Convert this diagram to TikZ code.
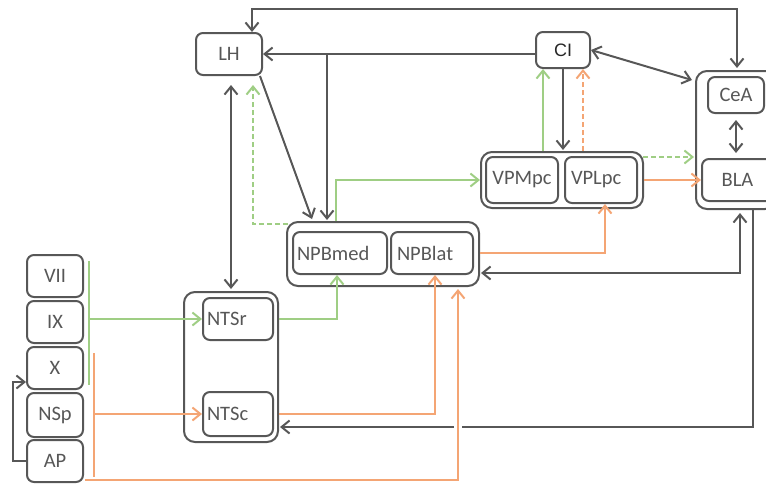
\documentclass[tikz,border=0pt]{standalone}
\usepackage{fontspec}
\setmainfont{Carlito}
\newfontfamily\cifont{Liberation Sans}
\usetikzlibrary{arrows.meta,calc}
\definecolor{dk}{HTML}{575757}
\definecolor{gr}{HTML}{9FCE84}
\definecolor{orng}{HTML}{F4A574}
\begin{document}
\begin{tikzpicture}[x=1pt,y=-1pt,
  >={Straight Barb[length=8pt,width=13pt]},
  box/.style 2 args={draw=dk, line width=2pt, rounded corners=7pt,
    minimum width=#1pt, minimum height=#2pt, inner sep=0pt, text=dk,
    font=\fontsize{20.5}{24}\selectfont},
  outer/.style 2 args={draw=dk, line width=2pt, rounded corners=11pt,
    minimum width=#1pt, minimum height=#2pt, inner sep=0pt},
  lt/.style={text width=#1pt, align=left},
  dkline/.style={draw=dk, line width=2pt},
  grline/.style={draw=gr, line width=2pt},
  orline/.style={draw=orng, line width=2pt},
  dsh/.style={dash pattern=on 5pt off 3pt}]
\useasboundingbox (0,0) rectangle (766,483);
\clip (0,0) rectangle (766,483);

% outer groups
\node[outer={80}{138}] (amyg) at (736,140) {};
\node[outer={162}{56}] (vpm) at (562,180) {};
\node[outer={192}{64}] (npb) at (383,254) {};
\node[outer={94}{150}] (nts) at (231,367) {};

% nuclei
\node[box={66}{42}] (lh) at (229,54) {LH};
\node[box={54}{36}, text=black!85, font=\cifont\fontsize{18}{20}\selectfont] (ci) at (563,50) {CI};
\node[box={56}{36}] (cea) at (736,95) {CeA};
\node[box={74}{42}] (bla) at (739,180) {\hspace*{-3pt}BLA};
\node[box={72}{46}] (vpmpc) at (522,180) {VPMpc};
\node[box={72}{46}, lt=60] (vplpc) at (601,180) {VPLpc};
\node[box={94}{42}, lt=86] (npbmed) at (340,253) {NPBmed};
\node[box={82}{42}, lt=70] (npblat) at (432,253) {NPBlat};
\node[box={70}{42}, lt=62] (ntsr) at (238,319) {NTSr};
\node[box={70}{44}, lt=62] (ntsc) at (238,414) {NTSc};

% cranial nerves and inputs
\node[box={56}{42}] (vii) at (55,276) {VII};
\node[box={56}{42}] (ix) at (55,322) {IX};
\node[box={56}{42}] (xn) at (55,368) {X};
\node[box={56}{44}] (nsp) at (55,415) {NSp};
\node[box={56}{42}] (ap) at (55,461) {AP};

% helper points for routed connectors
\coordinate (topL) at (252,9);
\coordinate (topR) at (737,9);
\coordinate (brn) at (327,54);
\coordinate (lhgap) at (231,85);
\coordinate (gdash) at (253,85);
\coordinate (gvpm) at (543,0);
\coordinate (odash) at (583,0);
\coordinate (gamy) at (643,157);
\coordinate (loop) at (13,382);
\coordinate (grbrk) at (89,0);
\coordinate (orbrk) at (94,0);
\coordinate (blad) at (753,427);
\coordinate (blan) at (740,273);
\coordinate (apout) at (85,480);
\coordinate (apin) at (458,289);

% dark connectors
\draw[dkline,<->] (lh.north -| topL) -- (topL) -- (topR) -- ($(amyg.north -| topR)+(0,-2)$);
\draw[dkline,->] (ci.west |- lh.east) -- (lh.east);
\draw[dkline,->] (brn) -- ($(brn |- npb.north)+(0,-1)$);
\draw[dkline,->] ($(lh.south east)+(-3,0)$) -- ($(npb.north west)+(26,-2)$);
\draw[dkline,<->] (lhgap) -- ($(lhgap |- nts.north)+(0,-2)$);
\draw[dkline,<->] (ci.east) -- ($(amyg.north west)+(-3,10)$);
\draw[dkline,->] (ci.south) -- ($(ci.south |- vpm.north)+(0,-1)$);
\draw[dkline,<->,shorten <=6pt,shorten >=5pt] (cea.south) -- (cea.south |- bla.north);
\draw[dkline,<->] ($(amyg.south -| blan)+(0,3)$) -- (blan) -- ($(blan -| npb.east)+(1,0)$);
\draw[dkline,->] (amyg.south -| blad) -- (blad) -- ($(blad -| nts.east)+(1,0)$);
\draw[dkline,->] (ap.west) -| (loop) -- (loop -| xn.west);

% green (gustatory) connectors
\draw[grline] (89,261) -- (89,385);
\draw[grline,->] (grbrk |- ntsr) -- (ntsr.west);
\draw[grline,->] (nts.east |- ntsr) -| ($(npbmed.south)+(-3,0)$);
\draw[grline,->] ($(npb.north west)+(50,0)$) |- (vpm.west);
\draw[grline,->] (gvpm |- vpm.north) -- (gvpm |- ci.south);
\draw[grline,dsh,->] ($(npb.north west)+(2,3)$) -| (gdash);
\draw[grline,dsh,->] (gamy) -- ($(gamy -| amyg.west)+(-1,0)$);

% orange (visceral) connectors
\draw[orline] (94,353) -- (94,477);
\draw[orline,->] (orbrk |- ntsc) -- (ntsc.west);
\draw[orline,->] (nts.east |- ntsc) -| ($(npblat.south)+(3,0)$);
\draw[orline,->] (npb.east |- npblat) -| ($(vplpc.south)+(4,0)$);
\draw[orline,->] (vpm.east |- bla) -- (bla.west);
\draw[orline,dsh,->] (odash |- vpm.north) -- (odash |- ci.south);
\fill[white] (454,423) rectangle (462,431);
\draw[orline,->] (apout) -| (apin);
\end{tikzpicture}
\end{document}
